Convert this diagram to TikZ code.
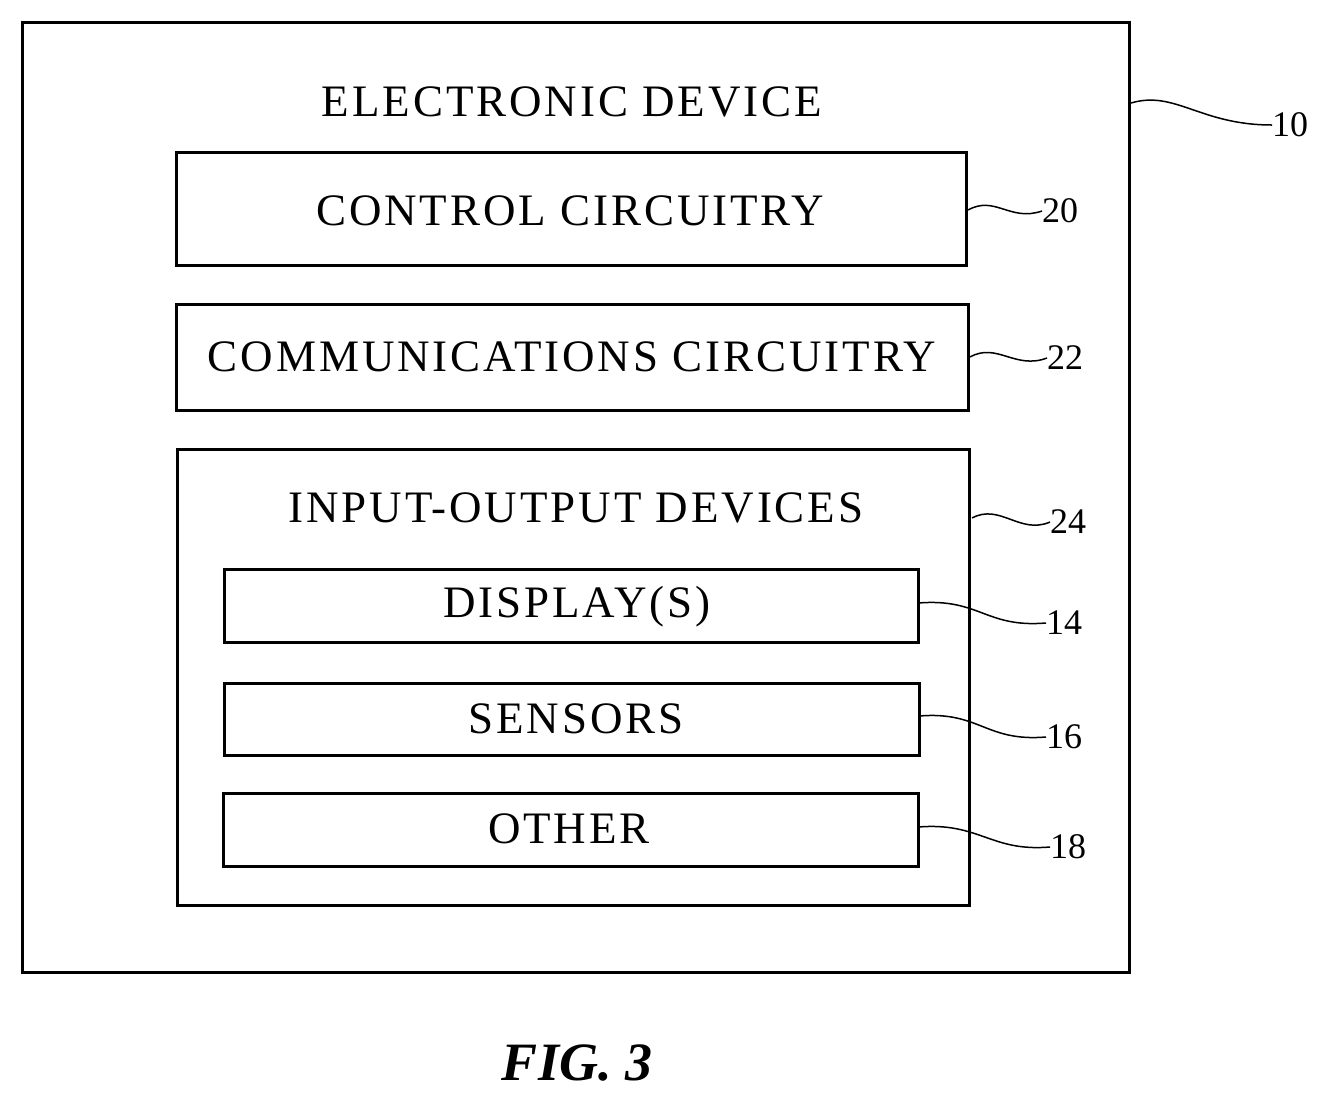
\documentclass[tikz,border=0pt]{standalone}
\usepackage{fontspec}
\setmainfont{Liberation Serif}
\begin{document}
\begin{tikzpicture}[x=1pt,y=-1pt,
  box/.style={draw,line width=3pt},
  lbl/.style={font=\fontsize{45}{48}\selectfont\addfontfeature{LetterSpace=6.5},inner sep=0},
  num/.style={font=\fontsize{36}{40}\selectfont,inner sep=0,anchor=west},
  lead/.style={line width=1.5pt}]
\useasboundingbox (0,0) rectangle (1332,1104);
\draw[box] (22,22) rectangle (1129,972);
\draw[box] (176,152) rectangle (966,265);
\draw[box] (176,304) rectangle (968,410);
\draw[box] (177,449) rectangle (969,905);
\draw[box] (224,569) rectangle (918,642);
\draw[box] (224,683) rectangle (919,755);
\draw[box] (223,793) rectangle (918,866);
\node[lbl] (t0) at (572,102) {ELECTRONIC DEVICE};
\node[lbl] (t1) at (570,211) {CONTROL CIRCUITRY};
\node[lbl] (t2) at (572,357) {COMMUNICATIONS CIRCUITRY};
\node[lbl] (t3) at (576,508) {INPUT-OUTPUT DEVICES};
\node[lbl] (t4) at (577,607) {DISPLAY(S)};
\node[lbl] (t5) at (576,719) {SENSORS};
\node[lbl] (t6) at (569,829) {OTHER};
\node[num] (n10) at (1272,125) {10};
\node[num] (n20) at (1042,211) {20};
\node[num] (n22) at (1047,358) {22};
\node[num] (n24) at (1050,522) {24};
\node[num] (n14) at (1046,623) {14};
\node[num] (n16) at (1046,737) {16};
\node[num] (n18) at (1050,847) {18};
\coordinate (c10) at (1131,103);
\coordinate (c20) at (968,210);
\coordinate (c22) at (970,357);
\coordinate (c24) at (972,518);
\coordinate (c14) at (918,603);
\coordinate (c16) at (919,716);
\coordinate (c18) at (918,827);
\draw[lead] (c10) .. controls (1175,90) and (1200,125) .. (n10.west);
\draw[lead] (c20) .. controls (995,195) and (1010,222) .. (n20.west);
\draw[lead] (c22) .. controls (997,342) and (1015,370) .. (n22.west);
\draw[lead] (c24) .. controls (1000,503) and (1020,535) .. (n24.west);
\draw[lead] (c14) .. controls (980,598) and (985,628) .. (n14.west);
\draw[lead] (c16) .. controls (980,711) and (985,742) .. (n16.west);
\draw[lead] (c18) .. controls (980,822) and (990,852) .. (n18.west);
\node[inner sep=0,font=\fontsize{54}{58}\selectfont\bfseries\itshape] (fig) at (577,1063) {FIG. 3};
\end{tikzpicture}
\end{document}
